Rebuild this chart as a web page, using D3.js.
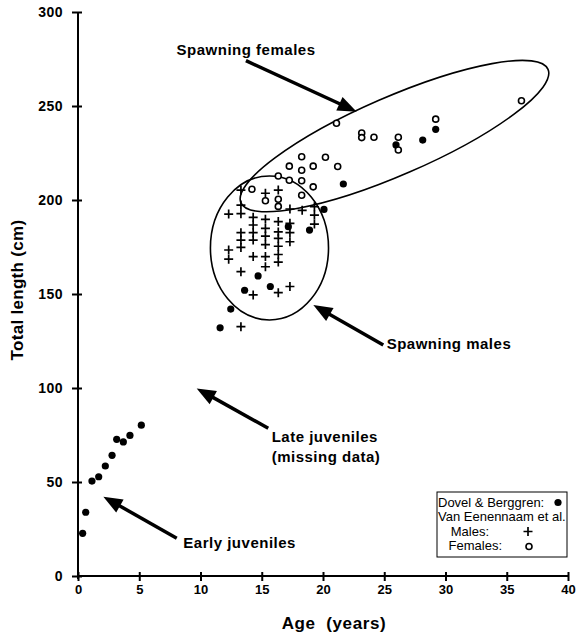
<!DOCTYPE html>
<html>
<head>
<meta charset="utf-8">
<script src="https://cdn.jsdelivr.net/npm/d3@7"></script>
<style>
    body { margin: 0; background: #fff; }
    text { font-family: "Liberation Sans", Arial, Helvetica, sans-serif; fill: #000; }
</style>
</head>
<body>
<div class="my_div"></div>
<script>
// Tick values for both axes
var xTicks = [0, 5, 10, 15, 20, 25, 30, 35, 40];
var yTicks = [0, 50, 100, 150, 200, 250, 300];

// Dovel & Berggren: [age, total length]
var dovel = [
    [0.38, 22.7], [0.63, 33.9], [1.14, 50.5], [1.69, 52.8], [2.23, 58.5],
    [2.78, 64.2], [3.16, 72.7], [3.7, 71.3], [4.24, 74.8], [5.17, 80.2],
    [11.6, 132], [12.47, 142], [13.6, 152], [14.7, 159.6], [15.7, 154],
    [17.17, 185.8], [18.9, 184], [20.08, 195], [21.66, 208.5],
    [25.96, 229.3], [28.14, 231.9], [29.2, 237.6]
];

// Van Eenennaam et al. males
var males = [
    [12.3, 192.5], [12.3, 173.4], [12.3, 168.5],
    [13.3, 205.3], [13.3, 197.3], [13.3, 192.7], [13.3, 182.6], [13.3, 178.7], [13.3, 174.8], [13.3, 161.9], [13.3, 132.6],
    [14.3, 190.8], [14.3, 186.7], [14.3, 182.6], [14.3, 178.7], [14.3, 169.9], [14.3, 149.5],
    [15.3, 203.6], [15.3, 189.7], [15.3, 184.9], [15.3, 180.8], [15.3, 176.3], [15.3, 169.9], [15.3, 164.5],
    [16.35, 205.3], [16.35, 188.5], [16.35, 183], [16.35, 179.6], [16.35, 175.4], [16.35, 171], [16.35, 167], [16.35, 150.7],
    [17.3, 195.2], [17.3, 187.6], [17.3, 182.6], [17.3, 177.8], [17.3, 154],
    [18.3, 194.5],
    [19.3, 196.4], [19.3, 192], [19.3, 187.2]
];

// Van Eenennaam et al. females
var females = [
    [14.2, 205.7], [15.3, 199.6], [16.35, 212.8], [16.35, 200.4], [16.35, 196.6],
    [17.25, 218], [17.25, 210.5], [18.26, 223], [18.26, 215.8], [18.26, 210.2], [18.26, 202.5],
    [19.2, 218], [19.2, 207], [20.2, 222.7], [21.2, 217.8], [21.1, 240.8],
    [23.16, 235.6], [23.16, 233.2], [24.16, 233.4], [26.15, 233.4], [26.15, 226.6],
    [29.2, 243], [36.2, 252.8]
];

// Annotation text and arrows, in data units
var notes = [
    { lines: ["Spawning females"], at: [8.05, 277.1], from: [13.71, 274.1], to: [22.75, 247] },
    { lines: ["Spawning males"], at: [25.2, 120.7], from: [24.92, 122.9], to: [19.21, 144.1] },
    { lines: ["Late juveniles", "(missing data)"], at: [15.81, 71.4], from: [15.53, 78.6], to: [9.69, 99.8] },
    { lines: ["Early juveniles"], at: [8.6, 14.7], from: [8.06, 20.1], to: [2.07, 42.2] }
];

// Size of the page
var width = 577,
    height = 639;

var xScale = d3.scaleLinear()
    .domain([0, 40])
    .range([78, 568]);

var yScale = d3.scaleLinear()
    .domain([0, 300])
    .range([576, 12]);

var svg = d3.select(".my_div")
    .append("svg")
    .attr("width", width)
    .attr("height", height);

// Axes, ticks cross the axis line
var xAxis = svg.append("g")
    .attr("transform", "translate(0," + yScale(0) + ")")
    .call(d3.axisBottom(xScale).tickValues(xTicks).tickSize(5).tickPadding(4))

xAxis.select(".domain").attr("d", "M" + (xScale(0) - 1) + ",0H" + xScale(40))
xAxis.selectAll(".tick line").attr("y1", -4)

var yAxis = svg.append("g")
    .attr("transform", "translate(" + xScale(0) + ",0)")
    .call(d3.axisLeft(yScale).tickValues(yTicks).tickSize(6).tickPadding(9))

yAxis.select(".domain").attr("d", "M0," + yScale(300) + "V" + (yScale(0) + 3))
yAxis.selectAll(".tick line").attr("x1", 4)

svg.selectAll(".domain, .tick line")
    .attr("stroke", "#000")
    .attr("stroke-width", 2)

svg.selectAll(".tick text")
    .attr("fill", "#000")
    .style("font-family", "'Liberation Sans', Arial, sans-serif")
    .style("font-weight", "bold")

xAxis.selectAll(".tick text").style("font-size", "13px")
yAxis.selectAll(".tick text").style("font-size", "14px").style("letter-spacing", "0.5px")

// Axis titles
svg.append("text")
    .text("Age  (years)")
    .attr("x", 334)
    .attr("y", 629)
    .attr("text-anchor", "middle")
    .style("font-size", "17px")
    .style("letter-spacing", "0.6px")
    .style("font-weight", "bold")
    .style("white-space", "pre")

svg.append("text")
    .text("Total length (cm)")
    .attr("transform", "translate(23,290) rotate(-90)")
    .attr("text-anchor", "middle")
    .style("font-size", "17px")
    .style("letter-spacing", "0.3px")
    .style("font-weight", "bold")

// Ellipse round the spawning males
var maleEl = { c: [15.63, 174.5], r: [4.82, 38.3] }
svg.append("ellipse")
    .attr("cx", xScale(maleEl.c[0]))
    .attr("cy", yScale(maleEl.c[1]))
    .attr("rx", xScale(maleEl.r[0]) - xScale(0))
    .attr("ry", yScale(0) - yScale(maleEl.r[1]))
    .attr("fill", "none")
    .attr("stroke", "#000")
    .attr("stroke-width", 1.6)

// Long tilted ellipse round the spawning females, given by the ends of its long axis
var femaleEl = { a: [13.3, 198.5], b: [38.37, 269.5] }
var ax = xScale(femaleEl.a[0]), ay = yScale(femaleEl.a[1]),
    bx = xScale(femaleEl.b[0]), by = yScale(femaleEl.b[1]);
var fcx = (ax + bx) / 2, fcy = (ay + by) / 2;
var fAngle = Math.atan2(by - ay, bx - ax) * 180 / Math.PI;
svg.append("ellipse")
    .attr("transform", "translate(" + fcx + "," + fcy + ") rotate(" + fAngle + ")")
    .attr("rx", Math.hypot(bx - ax, by - ay) / 2)
    .attr("ry", 39)
    .attr("fill", "none")
    .attr("stroke", "#000")
    .attr("stroke-width", 1.6)

// Points
svg.selectAll(".dovel")
    .data(dovel)
    .enter()
    .append("circle")
    .attr("class", "dovel")
    .attr("cx", (d) => { return xScale(d[0]); })
    .attr("cy", (d) => { return yScale(d[1]); })
    .attr("r", 3.6)
    .attr("fill", "#000")

svg.selectAll(".male")
    .data(males)
    .enter()
    .append("path")
    .attr("class", "male")
    .attr("d", (d) => {
        var x = xScale(d[0]), y = yScale(d[1]);
        return "M" + (x - 4.5) + "," + y + "H" + (x + 4.5) + "M" + x + "," + (y - 4.5) + "V" + (y + 4.5);
    })
    .attr("stroke", "#000")
    .attr("stroke-width", 1.7)

svg.selectAll(".female")
    .data(females)
    .enter()
    .append("circle")
    .attr("class", "female")
    .attr("cx", (d) => { return xScale(d[0]); })
    .attr("cy", (d) => { return yScale(d[1]); })
    .attr("r", 3)
    .attr("fill", "#fff")
    .attr("stroke", "#000")
    .attr("stroke-width", 1.6)

// Arrows with filled heads
notes.forEach((n) => {
    var x1 = xScale(n.from[0]), y1 = yScale(n.from[1]),
        x2 = xScale(n.to[0]), y2 = yScale(n.to[1]);
    var len = Math.hypot(x2 - x1, y2 - y1);
    var ux = (x2 - x1) / len, uy = (y2 - y1) / len;
    var head = 19, half = 7.5;
    var bxh = x2 - ux * head, byh = y2 - uy * head;

    svg.append("line")
        .attr("x1", x1).attr("y1", y1)
        .attr("x2", bxh + ux * 2).attr("y2", byh + uy * 2)
        .attr("stroke", "#000")
        .attr("stroke-width", 3.5)

    svg.append("path")
        .attr("d", "M" + x2 + "," + y2 +
            "L" + (bxh - uy * half) + "," + (byh + ux * half) +
            "L" + (bxh + uy * half) + "," + (byh - ux * half) + "Z")
        .attr("fill", "#000")

    var t = svg.append("text")
        .attr("x", xScale(n.at[0]))
        .attr("y", yScale(n.at[1]))
        .style("font-size", "15px")
        .style("letter-spacing", "0.5px")
        .style("font-weight", "bold")

    n.lines.forEach((l, i) => {
        t.append("tspan")
            .attr("x", xScale(n.at[0]))
            .attr("dy", i == 0 ? 0 : 20)
            .text(l)
    })
})

// Legend box
var legend = svg.append("g")
    .attr("transform", "translate(437,492)")

legend.append("rect")
    .attr("width", 130)
    .attr("height", 65)
    .attr("fill", "#fff")
    .attr("stroke", "#000")
    .attr("stroke-width", 1)

var legendRows = [
    { text: "Dovel & Berggren:", x: 1, anchor: "start" },
    { text: "Van Eenennaam et al.", x: 1, anchor: "start" },
    { text: "Males:", x: 52, anchor: "end" },
    { text: "Females:", x: 65, anchor: "end" }
]

legend.selectAll(".row")
    .data(legendRows)
    .enter()
    .append("text")
    .attr("class", "row")
    .attr("x", (d) => { return d.x; })
    .attr("y", (d, i) => { return 14.5 + i * 14.6; })
    .attr("text-anchor", (d) => { return d.anchor; })
    .style("font-size", "13px")
    .text((d) => { return d.text; })

legend.append("circle")
    .attr("cx", 121).attr("cy", 10.5).attr("r", 3.6)
    .attr("fill", "#000")

legend.append("path")
    .attr("d", "M86.5,39.5H95.5M91,35V44")
    .attr("stroke", "#000")
    .attr("stroke-width", 1.7)

legend.append("circle")
    .attr("cx", 92).attr("cy", 54.5).attr("r", 3)
    .attr("fill", "#fff")
    .attr("stroke", "#000")
    .attr("stroke-width", 1.6)
</script>
</body>
</html>
